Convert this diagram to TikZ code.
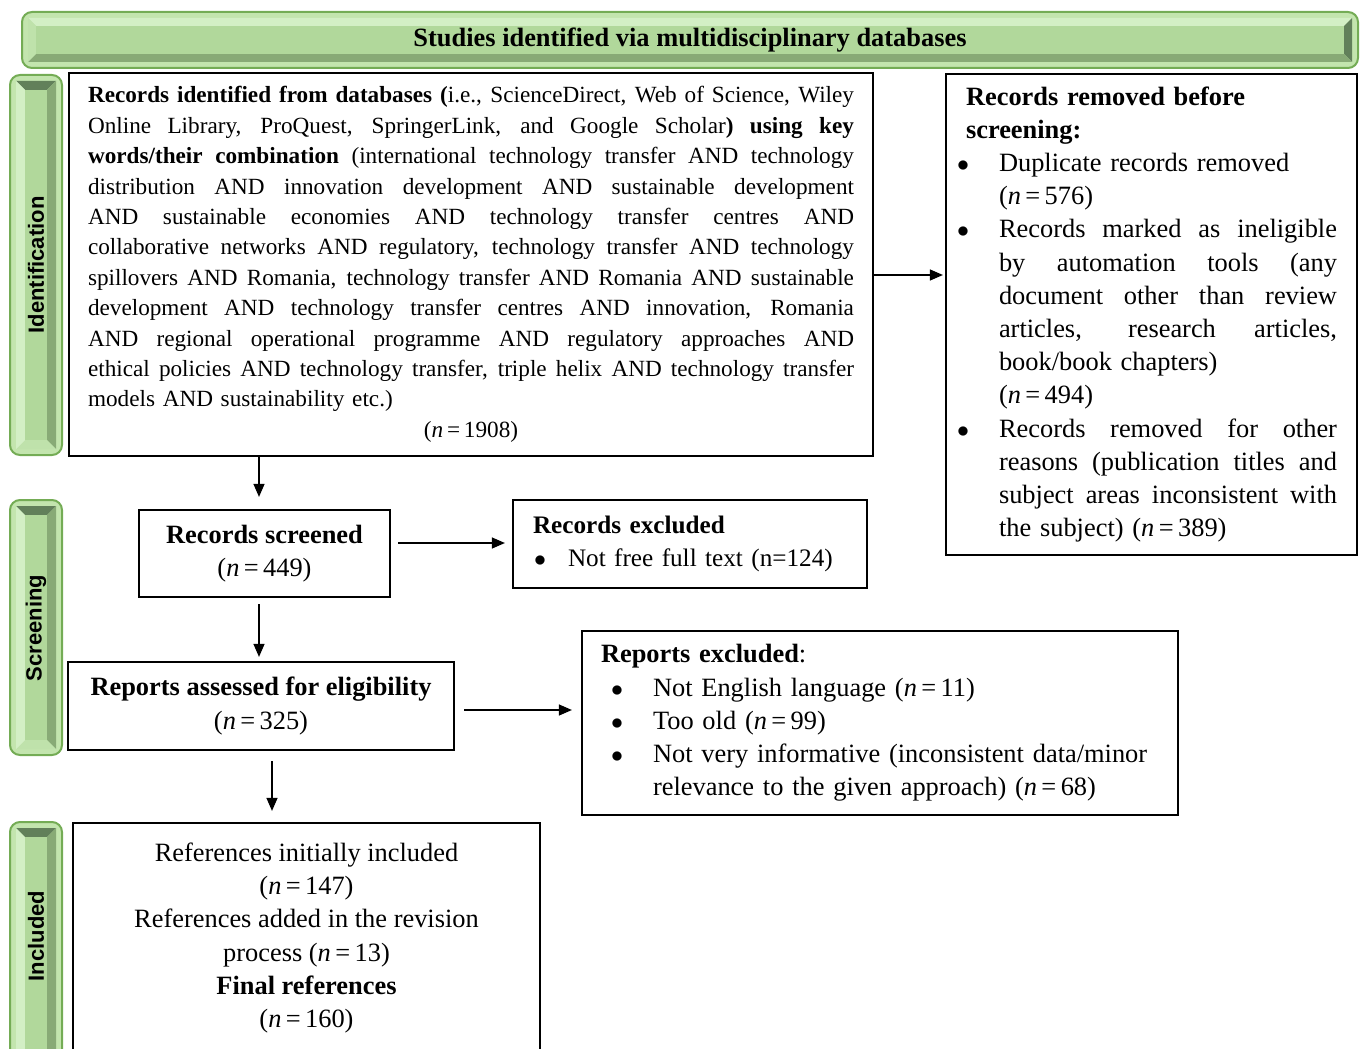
\documentclass[tikz,border=0pt]{standalone}
\usepackage{fontspec}
\setmainfont{Liberation Serif}
\newfontfamily\sidefam{Liberation Sans}
\usetikzlibrary{arrows.meta,calc}

\definecolor{rimline}{HTML}{74AC55}
\definecolor{rimfill}{HTML}{C3E5AE}
\definecolor{facefill}{HTML}{B1D89B}
\definecolor{bvlight}{HTML}{D3EFC5}
\definecolor{bvsoft}{HTML}{BFE2AB}
\definecolor{bvmid}{HTML}{88AA76}
\definecolor{bvdark}{HTML}{62805A}

\newcommand\sidefont{\sidefam\bfseries\fontsize{11}{13}\selectfont}

% line helpers for boxes with fixed line breaks
\newlength\bind
\newlength\boff
\newcommand\spreadsp{\spaceskip=.25em plus 1fil minus .06em\relax\xspaceskip=\spaceskip}
\newcommand\fjust[1]{\noindent\hbox to \linewidth{\spreadsp #1}\par}
\newcommand\fleft[1]{\noindent\makebox[\linewidth][l]{#1}\par}
\newcommand\fcent[1]{\noindent\makebox[\linewidth][c]{#1}\par}
\newcommand\bdotbox{\makebox[\bind][l]{\hspace{\boff}$\bullet$}}
\newcommand\bjust[1]{\noindent\bdotbox\hbox to \dimexpr\linewidth-\bind\relax{\spreadsp #1}\par}
\newcommand\bleft[1]{\noindent\bdotbox\makebox[\dimexpr\linewidth-\bind\relax][l]{#1}\par}
\newcommand\cjust[1]{\noindent\makebox[\bind]{}\hbox to \dimexpr\linewidth-\bind\relax{\spreadsp #1}\par}
\newcommand\cleft[1]{\noindent\makebox[\bind]{}\makebox[\dimexpr\linewidth-\bind\relax][l]{#1}\par}
\newcommand\nval[1]{(\textit{n}\,=\,#1)}

% bevelled green bar: x1,y1,x2,y2, top/right/bottom/left bevel colours, bevel width
\newcommand\bevelbar[9]{%
  \filldraw[fill=rimfill, draw=rimline, line width=1pt, rounded corners=5pt] (#1,#2) rectangle (#3,#4);
  \path ({#1+6},{#2+6}) coordinate (o1) ({#3-6},{#4-6}) coordinate (o2)
        ({#1+6+#9},{#2+6+#9}) coordinate (i1) ({#3-6-#9},{#4-6-#9}) coordinate (i2);
  \fill[#5] (o1) -- (o1 -| o2) -- (i1 -| i2) -- (i1) -- cycle;
  \fill[#6] (o1 -| o2) -- (o2) -- (i2) -- (i1 -| i2) -- cycle;
  \fill[#7] (o2) -- (o2 -| o1) -- (i2 -| i1) -- (i2) -- cycle;
  \fill[#8] (o2 -| o1) -- (o1) -- (i1) -- (i2 -| i1) -- cycle;
  \fill[facefill] (i1) rectangle (i2);
}

\tikzset{
  box/.style={draw=black, line width=1.1pt, fill=white, inner ysep=0pt},
  body/.style={font=\fontsize{13.2}{16.6}\selectfont},
  arr/.style={line width=0.6pt, -{Triangle[length=6.5pt,width=5.5pt]}},
}

\begin{document}
\begin{tikzpicture}[x=0.5pt,y=-0.5pt]
\useasboundingbox (0,0) rectangle (1363,1048);

% phase bars
\bevelbar{22}{12}{1358}{68}{bvlight}{bvdark}{bvmid}{bvsoft}{8}
\bevelbar{10}{75}{62}{455}{bvdark}{bvmid}{bvsoft}{bvlight}{9}
\bevelbar{10}{500}{62}{755}{bvdark}{bvmid}{bvsoft}{bvlight}{9}
\bevelbar{10}{822}{62}{1080}{bvdark}{bvmid}{bvsoft}{bvlight}{9}

\node[font=\bfseries\fontsize{13.2}{15}\selectfont] (hdr) at (690,40) {Studies identified via multidisciplinary databases};
\node[rotate=90, font=\sidefont] (lid) at (36,265) {Identification};
\node[rotate=90, font=\sidefont] (lsc) at (36,628) {Screening};
\node[rotate=90, font=\sidefont] (lin) at (36,936) {Included};

% identification
\node[box, text width=383pt, inner xsep=9.5pt, minimum height=191.5pt,
      font=\fontsize{11.6}{15.2}\selectfont] (ident) at (471,264.5) {%
\fjust{\textbf{Records identified from databases (}i.e., ScienceDirect, Web of Science, Wiley}
\fjust{Online Library, ProQuest, SpringerLink, and Google Scholar\textbf{) using key}}
\fjust{\textbf{words/their combination} (international technology transfer AND technology}
\fjust{distribution AND innovation development AND sustainable development}
\fjust{AND sustainable economies AND technology transfer centres AND}
\fjust{collaborative networks AND regulatory, technology transfer AND technology}
\fjust{spillovers AND Romania, technology transfer AND Romania AND sustainable}
\fjust{development AND technology transfer centres AND innovation, Romania}
\fjust{AND regional operational programme AND regulatory approaches AND}
\fjust{ethical policies AND technology transfer, triple helix AND technology transfer}
\fleft{models AND sustainability etc.)}
\fcent{\nval{1908}}};

\node[box, body, text width=185.5pt, inner xsep=10pt, minimum height=240.5pt] (removed) at (1151.5,314.5) {%
\setlength\bind{16.5pt}\setlength\boff{-4.5pt}%
\fleft{\textbf{Records removed before}}
\fleft{\textbf{screening:}}
\bleft{Duplicate records removed}
\cleft{\nval{576}}
\bjust{Records marked as ineligible}
\cjust{by automation tools (any}
\cjust{document other than review}
\cjust{articles, research articles,}
\cleft{book/book chapters)}
\cleft{\nval{494}}
\bjust{Records removed for other}
\cjust{reasons (publication titles and}
\cjust{subject areas inconsistent with}
\cleft{the subject) \nval{389}}};

% screening
\node[box, body, align=center, minimum width=125.5pt, minimum height=43.5pt] (screened) at (264.5,553.5)
  {\textbf{Records screened}\\\nval{449}};

\node[box, font=\fontsize{12.6}{16.6}\selectfont, text width=157pt, inner xsep=10pt, minimum height=44pt] (excl) at (690,544) {%
\setlength\bind{17.5pt}\setlength\boff{0.5pt}%
\fleft{\textbf{Records excluded}}
\bleft{Not free full text (n=124)}};

\node[box, body, align=center, minimum width=193pt, minimum height=44pt] (assessed) at (261,706)
  {\textbf{Reports assessed for eligibility}\\\nval{325}};

\node[box, body, text width=279pt, inner xsep=9.5pt, minimum height=92pt] (repexcl) at (880,723) {%
\setlength\bind{26pt}\setlength\boff{5pt}%
\fleft{\textbf{Reports excluded}:}
\bleft{Not English language \nval{11}}
\bleft{Too old \nval{99}}
\bleft{Not very informative (inconsistent data/minor}
\cleft{relevance to the given approach) \nval{68}}};

% included
\node[box, body, align=center, minimum width=233.5pt, minimum height=115pt] (incl) at (306.5,938)
  {References initially included\\\nval{147}\\References added in the revision\\process \nval{13}\\\textbf{Final references}\\\nval{160}};

% connectors
\coordinate (yA) at (0,275);
\coordinate (yB) at (0,543);
\coordinate (yC) at (0,710);
\coordinate (xA) at (259,0);
\coordinate (xB) at (272,0);

\draw[arr, shorten >=1pt] (ident.east |- yA) -- (removed.west |- yA);
\draw[arr, shorten >=6pt] (ident.south -| xA) -- (screened.north -| xA);
\draw[arr, shorten <=3.5pt, shorten >=3.5pt] (screened.east |- yB) -- (excl.west |- yB);
\draw[arr, shorten <=3pt, shorten >=2pt] (screened.south -| xA) -- (assessed.north -| xA);
\draw[arr, shorten <=4.5pt, shorten >=4.5pt] (assessed.east |- yC) -- (repexcl.west |- yC);
\draw[arr, shorten <=5pt, shorten >=5.5pt] (assessed.south -| xB) -- (incl.north -| xB);
\end{tikzpicture}
\end{document}
